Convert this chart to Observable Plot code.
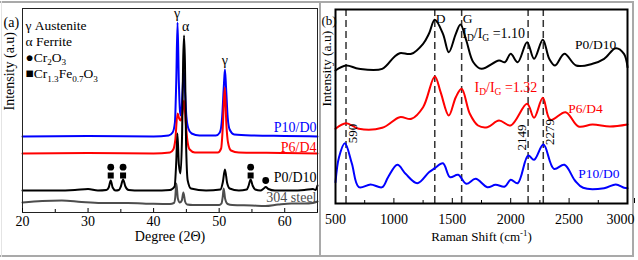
<!DOCTYPE html>
<html><head><meta charset="utf-8">
<script src="https://cdn.jsdelivr.net/npm/d3@7"></script>
<script src="https://cdn.jsdelivr.net/npm/@observablehq/plot@0.6"></script>
<style>
body{margin:0;background:#fff;}
#fig{position:relative;width:638px;height:260px;background:#fff;font-family:"Liberation Serif",serif;overflow:hidden;}
#fig svg{position:absolute;top:0;}
#fig svg text{font-family:"Liberation Serif",serif;}
.b{position:absolute;background:#a9a9a9;}
</style></head>
<body><div id="fig">
<div class="b" style="left:0;top:1px;width:634px;height:2px"></div>
<div class="b" style="left:0;top:255px;width:634px;height:2px"></div>
<div class="b" style="left:1px;top:1px;width:1px;height:256px;background:#e4e4e4"></div>
<div class="b" style="left:319px;top:1px;width:2px;height:256px"></div>
<div class="b" style="left:632px;top:1px;width:2px;height:256px"></div>
</div>
<script>
// ---------- (a) XRD data ----------
const xrdTicks = [20, 30, 40, 50, 60];
const xrdMinor = [25, 35, 45, 55, 65];
const steelX = [20,23,26,29,32,36,40,42.5,43.1,43.3,43.47,43.7,44.0,44.3,44.54,44.8,45.1,46,48,50,50.35,50.55,50.69,50.9,51.3,52,55,57,59,61,63,64.3,65];
const steelY = [10,11.5,12,10.5,9.5,9.5,8.7,8.5,9.5,15,29,14,10,12,20,11,8,7.5,7.5,7.5,9,16,24,14,8.5,7.5,7,6.5,8,9,9,9.5,11];
const p0d10X = [20,25,28,30,31.5,32.8,33.15,33.46,33.75,34.2,34.7,35.0,35.34,35.7,36.2,38,40,42.5,43.2,43.45,43.63,43.85,44.1,44.35,44.5,44.64,44.78,44.95,45.2,45.7,48,50.2,50.55,50.88,51.2,51.6,53,54.2,54.5,54.8,55.1,55.5,56.3,56.8,57.1,57.5,58.5,61,63,64.3,64.7,65];
const p0d10Y = [22,22,22.5,23.5,22,22.5,25,32,25,22,22.5,26,33,26,22.5,22,22,22.5,26,50,79,48,39,80,150,177,150,70,32,24,22,23,30,43,30,24,22,23,27,33,27,23,22,24,25.5,23.5,22,22,22.5,23.5,22.5,27];
const p6d4X = [20,30,40,42.5,43.0,43.3,43.65,43.9,44.15,44.4,44.64,44.9,45.15,45.5,46.3,49.8,50.3,50.55,50.85,51.1,51.35,51.8,53,60,65];
const p6d4Y = [59,59.5,59,60,63,72,99,94,92,100,112,90,72,63,60,60,64,85,125,88,70,62,60,59.5,59];
const p10d0X = [20,30,40,42.3,42.9,43.25,43.45,43.65,43.85,44.05,44.2,44.4,44.6,44.8,45.0,45.3,45.8,47,49.5,50.1,50.45,50.7,50.88,51.05,51.3,51.6,52.3,55,60,65];
const p10d0Y = [76,76.5,76,77,80,90,130,190,130,100,97,120,142,120,96,84,79,77,77,80,95,125,143,125,95,83,78,77,76.5,76];
const xrdNames = ["304 steel", "P0/D10", "P6/D4", "P10/D0"];
const xrdColors = ["#4d4d4d", "#000000", "#ff0000", "#0000ff"];
const xrdLabelY = [14.5, 34.5, 65, 85];
const circleX = [33.46, 35.34, 54.8, 57.1];
const circleY = [45.3, 45.3, 45.3, 32];
const squareX = [33.46, 35.34, 54.8];
const squareY = [37, 37, 37];
const peakLabels = ["γ", "α", "γ"];
const peakLabelX = [43.6, 44.9, 50.85];
const peakLabelY = [190, 177, 143];
const legendLabels = ["γ Austenite", "α Ferrite", "●Cr_{2}O_{3}", "■Cr_{1.3}Fe_{0.7}O_{3}"];

// ---------- (b) Raman data ----------
const ramanTicks = [500, 1000, 1500, 2000, 2500];
const ramanLastTick = [3000];
const ramanMinor = [750, 1250, 1750, 2250, 2750];
const blackRX = [500,590,700,900,1000,1050,1150,1250,1300,1350,1420,1470,1530,1570,1620,1680,1750,1900,1950,2000,2060,2140,2200,2275,2330,2380,2460,2560,2700,2800,2900,2970,3000];
const blackRY = [133,138,134.7,134.7,146.3,150.3,149.7,159.7,169.7,183.7,169.7,151.3,169.7,179,163,141.3,134.7,143,141.3,149.7,141.3,161.3,144.7,163.7,144.7,138,149.7,138,139.7,144.7,155.3,149.7,136.3];
const redRX = [500,590,700,900,1050,1150,1250,1350,1400,1470,1530,1580,1650,1720,1800,1900,2000,2140,2200,2275,2340,2470,2580,2700,2850,3000];
const redRY = [74.7,80.3,74.7,75.7,86.3,84.7,96.3,127,111.3,88,106.3,114.7,89.7,78,76.3,83,78,99.7,85.7,105.7,83.7,91.3,77,79,77,79];
const blueRX = [500,530,580,640,700,800,900,950,1030,1100,1200,1300,1350,1420,1480,1550,1620,1700,1800,1870,1950,2000,2060,2149,2200,2280,2370,2460,2550,2620,2800,2900,2970,3000];
const blueRY = [21.3,46.3,60.3,40,16.3,19,16.3,26.3,38.7,29.7,20.3,31.3,35.3,40.3,26.3,28.7,19.7,24.7,16.3,18.7,17,23.7,20.3,48,43.7,59,34.7,38.7,23,15.7,15.3,19,15.7,15.3];
const ramanNames = ["P0/D10", "P6/D4", "P10/D0"];
const ramanColors = ["#000000", "#ff0000", "#0000ff"];
const ramanLabelX = [2903, 2788, 2931];
const ramanLabelY = [159, 95, 30];
const bandLines = [590, 1350, 1580, 2149, 2279];
const bandNames = ["D", "G"];
const bandNameX = [1350, 1580];
const bandValueRight = ["590", "2279"];
const bandValueRightX = [590, 2279];
const bandValueRightY = [70, 71.5];
const bandValueLeft = ["2149"];
const bandValueLeftX = [2149];
const bandValueLeftY = [66];
const ratioLabels = ["I_{D}/I_{G} =1.10", "I_{D}/I_{G} =1.32"];
const ratioX = [1585, 1690];
const ratioY = [170, 116];
const ratioColors = ["#000000", "#ff0000"];

const toRows = (xs, ys) => xs.map((x, i) => ({x, y: ys[i]}));

function richText(svg) {
  d3.select(svg).selectAll("text").each(function() {
    const raw = this.textContent;
    if (!/[_^]\{/.test(raw)) return;
    const parts = []; const re = /([_^])\{([^}]*)\}/g; let last = 0, m;
    while ((m = re.exec(raw))) {
      if (m.index > last) parts.push(["", raw.slice(last, m.index)]);
      parts.push([m[1], m[2]]); last = re.lastIndex;
    }
    if (last < raw.length) parts.push(["", raw.slice(last)]);
    const el = d3.select(this); el.text(null);
    const fs = parseFloat(getComputedStyle(this).fontSize) || 14;
    let cur = 0;
    for (const [k, s] of parts) {
      const tgt = k === "_" ? fs * 0.24 : k === "^" ? -fs * 0.4 : 0;
      const t = el.append("tspan").attr("dy", tgt - cur).text(s);
      if (k) t.attr("font-size", fs * 0.68);
      cur = tgt;
    }
  });
}

const fig = document.getElementById("fig");
const fmt = d => String(d);

// ---------- left panel ----------
const xrdSeries = [toRows(steelX, steelY), toRows(p0d10X, p0d10Y), toRows(p6d4X, p6d4Y), toRows(p10d0X, p10d0Y)];
const drawOrder = [0, 3, 2, 1];
const leftPlot = Plot.plot({
  width: 320, height: 258,
  marginLeft: 22, marginRight: 3, marginTop: 8, marginBottom: 46,
  style: "font-family: 'Liberation Serif', serif; font-size: 14px; background: transparent; overflow: visible; color: #000;",
  x: {domain: [20, 65]},
  y: {domain: [0, 204], axis: null},
  marks: [
    ...drawOrder.map(i => Plot.line(xrdSeries[i], {x: "x", y: "y", stroke: xrdColors[i], strokeWidth: 2, curve: "monotone-x"})),
    Plot.dot(circleX.map((x, i) => ({x, y: circleY[i]})), {x: "x", y: "y", r: 3.4, fill: "#000", stroke: "none"}),
    Plot.dot(squareX.map((x, i) => ({x, y: squareY[i]})), {x: "x", y: "y", r: 3.4, symbol: "square", fill: "#000", stroke: "none"}),
    Plot.text(xrdNames, {x: () => 65, y: (d, i) => xrdLabelY[i], text: d => d, fill: (d, i) => xrdColors[i], textAnchor: "end", dx: -1, fontSize: 14}),
    Plot.text(peakLabels, {x: (d, i) => peakLabelX[i], y: (d, i) => peakLabelY[i], text: d => d, dy: -9, fontSize: 14}),
    ...legendLabels.map((t, i) => Plot.text([t], {frameAnchor: "top-left", text: d => d, textAnchor: "start", dx: 3, dy: 11.5 + 16.3 * i, fontSize: 13.5})),
    Plot.text(["(a)"], {frameAnchor: "top-left", text: d => d, textAnchor: "start", dx: -19, dy: 9, fontSize: 14}),
    Plot.text(["Intensity (a.u)"], {frameAnchor: "left", text: d => d, rotate: -90, dx: -13, fontSize: 14}),
    Plot.text(["Degree (2Θ)"], {frameAnchor: "bottom", text: d => d, lineAnchor: "top", dy: 19, fontSize: 14}),
    Plot.frame({stroke: "#222", strokeWidth: 1}),
    Plot.axisX(xrdTicks, {tickSize: -4, tickPadding: 8, label: null, fontSize: 14, tickFormat: fmt}),
    Plot.axisX(xrdMinor, {tickSize: -3, tickFormat: () => "", label: null})
  ]
});
leftPlot.style.left = "0px";
fig.append(leftPlot);
richText(leftPlot);

// ---------- right panel ----------
const ramanSeries = [toRows(blackRX, blackRY), toRows(redRX, redRY), toRows(blueRX, blueRY)];
const rightPlot = Plot.plot({
  width: 318, height: 258,
  marginLeft: 15, marginRight: 11, marginTop: 9, marginBottom: 55,
  style: "font-family: 'Liberation Serif', serif; font-size: 13px; background: transparent; overflow: visible; color: #000;",
  x: {domain: [500, 3000]},
  y: {domain: [0, 194], axis: null},
  marks: [
    Plot.ruleX(bandLines, {stroke: "#333", strokeWidth: 1.5, strokeDasharray: "7,4"}),
    ...ramanSeries.map((s, i) => Plot.line(s, {x: "x", y: "y", stroke: ramanColors[i], strokeWidth: 2, curve: "catmull-rom"})),
    Plot.text(ramanNames, {x: (d, i) => ramanLabelX[i], y: (d, i) => ramanLabelY[i], text: d => d, fill: (d, i) => ramanColors[i], textAnchor: "end", fontSize: 13.5}),
    Plot.text(bandNames, {x: (d, i) => bandNameX[i], frameAnchor: "top", text: d => d, textAnchor: "start", dx: 1, dy: 4, fontSize: 13.5}),
    Plot.text(bandValueRight, {x: (d, i) => bandValueRightX[i], y: (d, i) => bandValueRightY[i], text: d => d, rotate: -90, dx: 7, fontSize: 13}),
    Plot.text(bandValueLeft, {x: (d, i) => bandValueLeftX[i], y: (d, i) => bandValueLeftY[i], text: d => d, rotate: -90, dx: -6, fontSize: 13}),
    Plot.text(ratioLabels, {x: (d, i) => ratioX[i], y: (d, i) => ratioY[i], text: d => d, fill: (d, i) => ratioColors[i], textAnchor: "start", fontSize: 14}),
    Plot.text(["(b)"], {frameAnchor: "top-left", text: d => d, textAnchor: "start", dx: -14, dy: 6, fontSize: 13}),
    Plot.text(["Intensity (a.u)"], {frameAnchor: "left", text: d => d, rotate: -90, dx: -9, fontSize: 13.5}),
    Plot.text(["Raman Shift (cm^{-1})"], {frameAnchor: "bottom", text: d => d, lineAnchor: "top", dy: 28, fontSize: 13}),
    Plot.frame({stroke: "#000", strokeWidth: 2}),
    Plot.axisX(ramanTicks, {tickSize: -5, tickPadding: 16, label: null, fontSize: 14, tickFormat: fmt}),
    Plot.axisX(ramanLastTick, {tickSize: -5, tickPadding: 16, label: null, fontSize: 14, tickFormat: fmt, textAnchor: "end", dx: 7}),
    Plot.axisX(ramanMinor, {tickSize: -3, tickFormat: () => "", label: null})
  ]
});
rightPlot.style.left = "320px";
fig.append(rightPlot);
richText(rightPlot);
</script>
</body></html>
